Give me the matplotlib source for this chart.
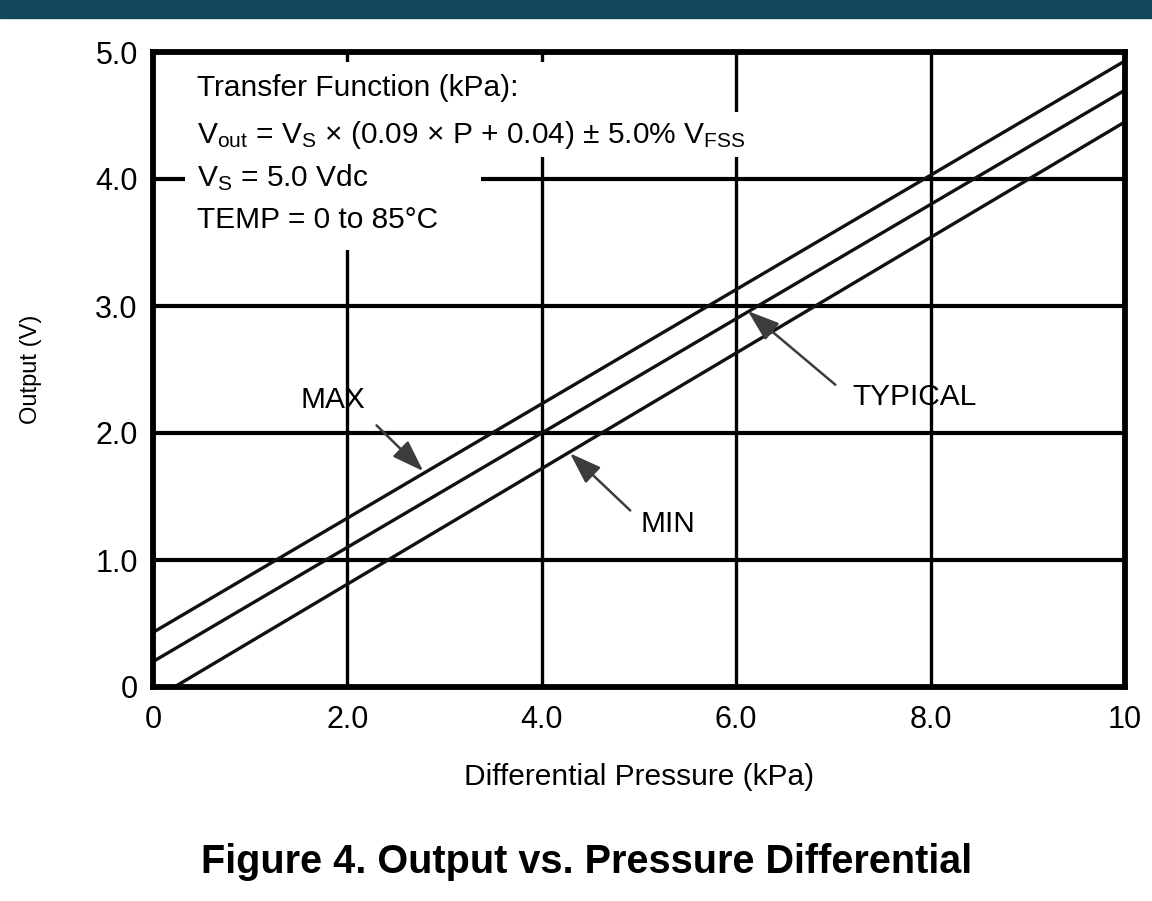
import matplotlib
matplotlib.use("Agg")
import matplotlib.pyplot as plt
from matplotlib.patches import Rectangle
from matplotlib import font_manager

# data
pressure = [0.0, 10.0]
out_max = [0.43, 4.93]
out_typ = [0.20, 4.70]
out_min = [-0.10, 4.45]

x_ticks = [0, 2, 4, 6, 8, 10]
x_labels = ['0', '2.0', '4.0', '6.0', '8.0', '10']
y_ticks = [0, 1, 2, 3, 4, 5]
y_labels = ['0', '1.0', '2.0', '3.0', '4.0', '5.0']

names = {f.name for f in font_manager.fontManager.ttflist}
FONT = 'Liberation Sans Narrow' if 'Liberation Sans Narrow' in names else 'Liberation Sans'

plt.rcParams['font.family'] = [FONT, 'DejaVu Sans']
plt.rcParams['mathtext.fontset'] = 'custom'
plt.rcParams['mathtext.rm'] = FONT
plt.rcParams['mathtext.it'] = FONT

fig = plt.figure(figsize=(11.52, 9.01), dpi=100)

# dark banner at the top
fig.patches.append(Rectangle((0, 1 - 18 / 901), 1, 18 / 901, transform=fig.transFigure,
                             color='#13475e', zorder=0))

ax = fig.add_axes([153 / 1152, 1 - 687 / 901, 972 / 1152, 635 / 901])
ax.set_xlim(0, 10)
ax.set_ylim(0, 5)

ax.set_xticks(x_ticks)
ax.set_xticklabels(x_labels)
ax.set_yticks(y_ticks)
ax.set_yticklabels(y_labels)
ax.tick_params(length=0, labelsize=22, width=0)
ax.tick_params(axis='x', pad=13)
ax.tick_params(axis='y', pad=11)
ax.xaxis.grid(True, color='black', linewidth=2.4)
ax.yaxis.grid(True, color='black', linewidth=3.0)
ax.set_axisbelow(True)
for s in ax.spines.values():
    s.set_linewidth(4.2)
    s.set_zorder(5)

ax.plot(pressure, out_max, color='#111111', lw=2.4, zorder=4)
ax.plot(pressure, out_typ, color='#111111', lw=2.4, zorder=4)
ax.plot(pressure, out_min, color='#111111', lw=2.4, zorder=4)

# white area behind the transfer function text
for (x0, y0, w, h) in [(0.33, 3.44, 3.04, 1.48), (3.37, 4.17, 0.85, 0.75), (0.33, 4.17, 5.94, 0.36)]:
    ax.add_patch(Rectangle((x0, y0), w, h, facecolor='white', edgecolor='none', zorder=2))

tkw = dict(fontsize=21.5, va='center', ha='left', zorder=3)
ax.text(0.45, 4.72, 'Transfer Function (kPa):', **tkw)
ax.text(0.45, 4.35, r'V$_{\mathrm{out}}$ = V$_{\mathrm{S}}$ × (0.09 × P + 0.04) ± 5.0% V$_{\mathrm{FSS}}$', **tkw)
ax.text(0.45, 4.01, r'V$_{\mathrm{S}}$ = 5.0 Vdc', **tkw)
ax.text(0.45, 3.68, 'TEMP = 0 to 85°C', **tkw)

# callouts: gray shaft, dark head
akw = dict(arrowstyle='-|>,head_length=1.3,head_width=0.45', color='#3c3c3c', lw=1.8,
           shrinkA=0, shrinkB=0, mutation_scale=15)
ax.annotate('', xy=(2.78, 1.70), xytext=(2.30, 2.06), arrowprops=akw, zorder=6)
ax.annotate('', xy=(6.12, 2.96), xytext=(7.02, 2.38), arrowprops=akw, zorder=6)
ax.annotate('', xy=(4.29, 1.84), xytext=(4.91, 1.39), arrowprops=akw, zorder=6)
lkw = dict(fontsize=21.5, ha='center', va='center', zorder=6)
ax.text(1.85, 2.26, 'MAX', **lkw)
ax.text(7.83, 2.28, 'TYPICAL', **lkw)
ax.text(5.30, 1.28, 'MIN', **lkw)

ax.set_xlabel('Differential Pressure (kPa)', fontsize=21.5, labelpad=20)
ax.set_ylabel('Output (V)', fontsize=17, labelpad=38)

fig.text(587 / 1152, 1 - 862 / 901, 'Figure 4. Output vs. Pressure Differential', ha='center',
         va='center', fontsize=28.5, fontweight='bold', family=['Liberation Sans', 'DejaVu Sans'])

fig.savefig('out.png', dpi=100)
